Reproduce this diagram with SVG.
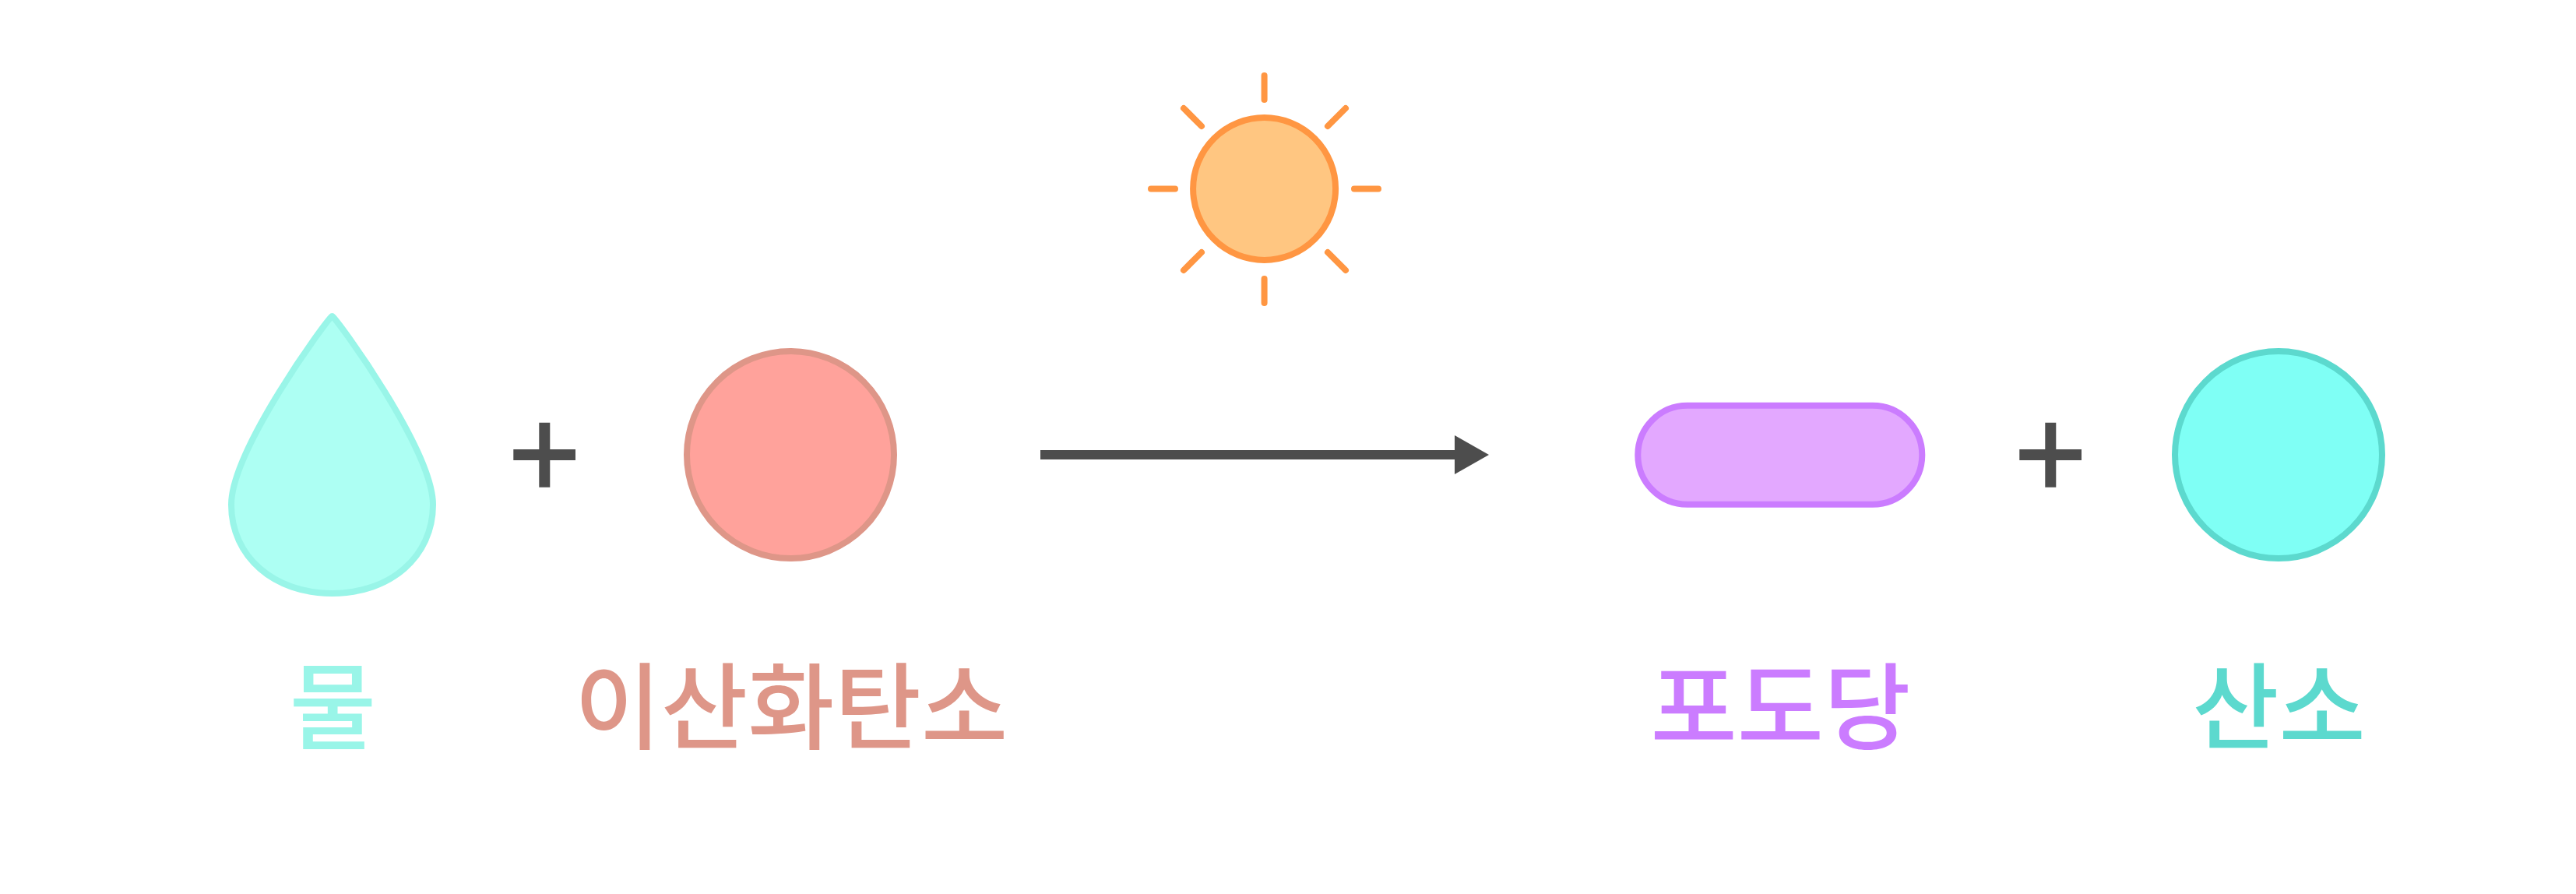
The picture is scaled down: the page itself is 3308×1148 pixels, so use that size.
<svg xmlns="http://www.w3.org/2000/svg" width="3308" height="1148" viewBox="0 0 3308 1148">
<style>
text{font-family:"Noto Sans CJK KR","Noto Sans",sans-serif;font-size:121px;text-anchor:middle;font-weight:500}
.plus{stroke:#4d4d4d;stroke-width:14;fill:none}
.ray{stroke:#ff9642;stroke-width:8;stroke-linecap:round;fill:none}
</style>
<rect width="3308" height="1148" fill="#fff"/>
<g id="water">
<path d="M426.500 406C420 410 297 578 297 648C297 715 352 762 426.500 762C501 762 556 715 556 648C556 578 433 410 426.500 406Z" fill="#adfff3" stroke="#99f5e8" stroke-width="8" stroke-linejoin="round"/>
<text x="427.500" y="951.500" fill="#99f5e8">물</text>
</g>
<g id="plus1"><path class="plus" d="M659.300 584H739M699.300 542.700V625.700"/></g>
<g id="co2">
<circle cx="1015" cy="584" r="133" fill="#ffa29b" stroke="#de9688" stroke-width="8"/>
<text x="1016" y="951.500" fill="#de9688">이산화탄소</text>
</g>
<g id="sun">
<circle cx="1623.600" cy="242.500" r="91.500" fill="#ffc681" stroke="#ff9642" stroke-width="8"/>
<path class="ray" d="M1623.600 97V128M1623.600 358V389M1478 242.500H1509M1739 242.500H1770M1520 139L1543 162M1705 324L1728 347M1728 139L1705 162M1543 324L1520 347"/>
</g>
<g id="connectors">
<path d="M1336 584H1870" stroke="#4d4d4d" stroke-width="12" fill="none"/>
<path d="M1868 559L1912 584L1868 609Z" fill="#4d4d4d"/>
</g>
<g id="glucose">
<rect x="2103.300" y="520.700" width="365" height="127" rx="63.500" ry="63.500" fill="#e3a8ff" stroke="#cb7cff" stroke-width="8"/>
<text x="2286.500" y="951.500" fill="#cb7cff">포도당</text>
</g>
<g id="plus2"><path class="plus" d="M2593.300 584H2673M2633.300 542.700V625.700"/></g>
<g id="oxygen">
<circle cx="2926" cy="584" r="133" fill="#7ffff5" stroke="#5cd9ce" stroke-width="8"/>
<text x="2926.500" y="951.500" fill="#5cd9ce">산소</text>
</g>
</svg>
